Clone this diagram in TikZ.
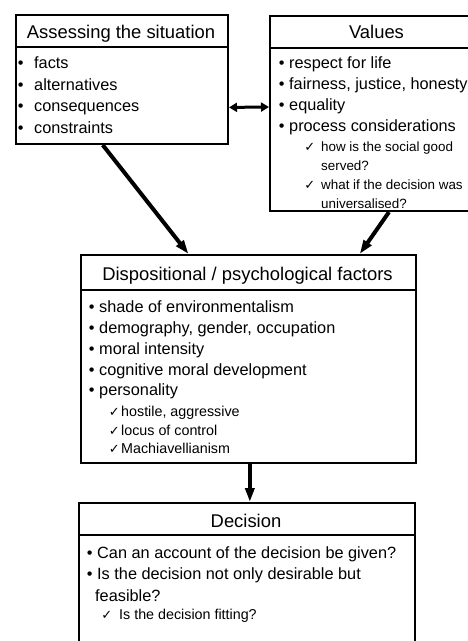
\documentclass[tikz,border=0pt]{standalone}
\usepackage{fontspec}
\setmainfont{Liberation Sans}
\newfontfamily\chkfont{DejaVu Sans}
\usetikzlibrary{arrows.meta,calc}
\newcommand{\bl}[2]{\llap{•\hspace{#1}}#2}
\newcommand{\ck}[2]{\llap{{\chkfont\fontsize{13}{13}\selectfont ✓}\hspace{#1}}#2}
\begin{document}
\begin{tikzpicture}[x=1pt,y=-1pt,
 box/.style={draw, line width=2pt, rectangle, anchor=north west, inner sep=0pt},
 div/.style={line width=2.5pt},
 ttl/.style={font=\fontsize{18.4}{20}\selectfont, anchor=base, inner sep=0pt},
 txt/.style={font=\fontsize{16.3}{18}\selectfont, anchor=base west, inner sep=0pt},
 sub/.style={font=\fontsize{14.3}{16}\selectfont, anchor=base west, inner sep=0pt},
 vsub/.style={font=\fontsize{13.4}{15}\selectfont, anchor=base west, inner sep=0pt},
 arr/.style={line width=4pt, -{Triangle[length=14pt,width=9pt]}},
 darr/.style={line width=3pt, {Triangle[length=8pt,width=9pt]}-{Triangle[length=8pt,width=9pt]}},
 ]
\useasboundingbox (0,0) rectangle (468,641);
\fill[white] (0,0) rectangle (468,641);

% boxes
\node[box, minimum width=212pt, minimum height=129pt] (assess) at (15,14) {};
\node[box, minimum width=215pt, minimum height=195pt] (values) at (269,15) {};
\node[box, minimum width=335pt, minimum height=208pt] (disp) at (80,254) {};
\node[box, minimum width=336pt, minimum height=160pt] (dec) at (78,502) {};

% header dividers
\draw[div] (assess.west |- 0,47) -- (assess.east |- 0,47);
\draw[div] (values.west |- 0,48) -- (values.east |- 0,48);
\draw[div] (disp.west |- 0,290) -- (disp.east |- 0,290);
\draw[div] (dec.west |- 0,535) -- (dec.east |- 0,535);

% titles
\node[ttl] (assesst) at (121,38) {Assessing the situation};
\node[ttl] (valuest) at (376.5,38) {Values};
\node[ttl] (dispt) at (247.5,280) {Dispositional / psychological factors};
\node[ttl] (dect) at (246,527) {Decision};

% assessing body
\node[txt] (a1) at (34,68.5) {\bl{10.5pt}{facts}};
\node[txt] (a2) at (34,90) {\bl{10.5pt}{alternatives}};
\node[txt] (a3) at (34,111.5) {\bl{10.5pt}{consequences}};
\node[txt] (a4) at (34,133) {\bl{10.5pt}{constraints}};

% values body
\node[txt] (v1) at (289,68) {\bl{4.6pt}{respect for life}};
\node[txt] (v2) at (289,89) {\bl{4.6pt}{fairness, justice, honesty}};
\node[txt] (v3) at (289,110) {\bl{4.6pt}{equality}};
\node[txt] (v4) at (289,131) {\bl{4.6pt}{process considerations}};
\node[vsub] (v5) at (321,151) {\ck{6pt}{how is the social good}};
\node[vsub] (v6) at (321,170) {served?};
\node[vsub] (v7) at (321,189) {\ck{6pt}{what if the decision was}};
\node[vsub] (v8) at (321,208) {universalised?};

% dispositional body
\node[txt] (d1) at (99,312) {\bl{4.6pt}{shade of environmentalism}};
\node[txt] (d2) at (99,333) {\bl{4.6pt}{demography, gender, occupation}};
\node[txt] (d3) at (99,354) {\bl{4.6pt}{moral intensity}};
\node[txt] (d4) at (99,375) {\bl{4.6pt}{cognitive moral development}};
\node[txt] (d5) at (99,395.5) {\bl{4.6pt}{personality}};
\node[sub] (d6) at (121,416) {\ck{1.5pt}{hostile, aggressive}};
\node[sub] (d7) at (121,435) {\ck{1.5pt}{locus of control}};
\node[sub] (d8) at (121,453) {\ck{1.5pt}{Machiavellianism}};

% decision body
\node[txt] (e1) at (97,558) {\bl{4.6pt}{Can an account of the decision be given?}};
\node[txt] (e2) at (97,579) {\bl{4.6pt}{Is the decision not only desirable but}};
\node[txt] (e3) at (95,601) {feasible?};
\node[sub] (e4) at (119,619) {\ck{7pt}{Is the decision fitting?}};

% connectors
\draw[darr] ($(assess.north east)!0.713!(assess.south east)$) -- ($(values.north west)!0.467!(values.south west)$);
\draw[arr] ($(assess.south west)!0.41!(assess.south east)$) -- ($(disp.north west)!0.322!(disp.north east)$);
\draw[arr] ($(values.south west)!0.553!(values.south east)$) -- ($(disp.north west)!0.83!(disp.north east)$);
\coordinate (dbot) at ($(disp.south west)!0.504!(disp.south east)$);
\draw[arr] (dbot) -- (dbot |- dec.north);
\end{tikzpicture}
\end{document}
